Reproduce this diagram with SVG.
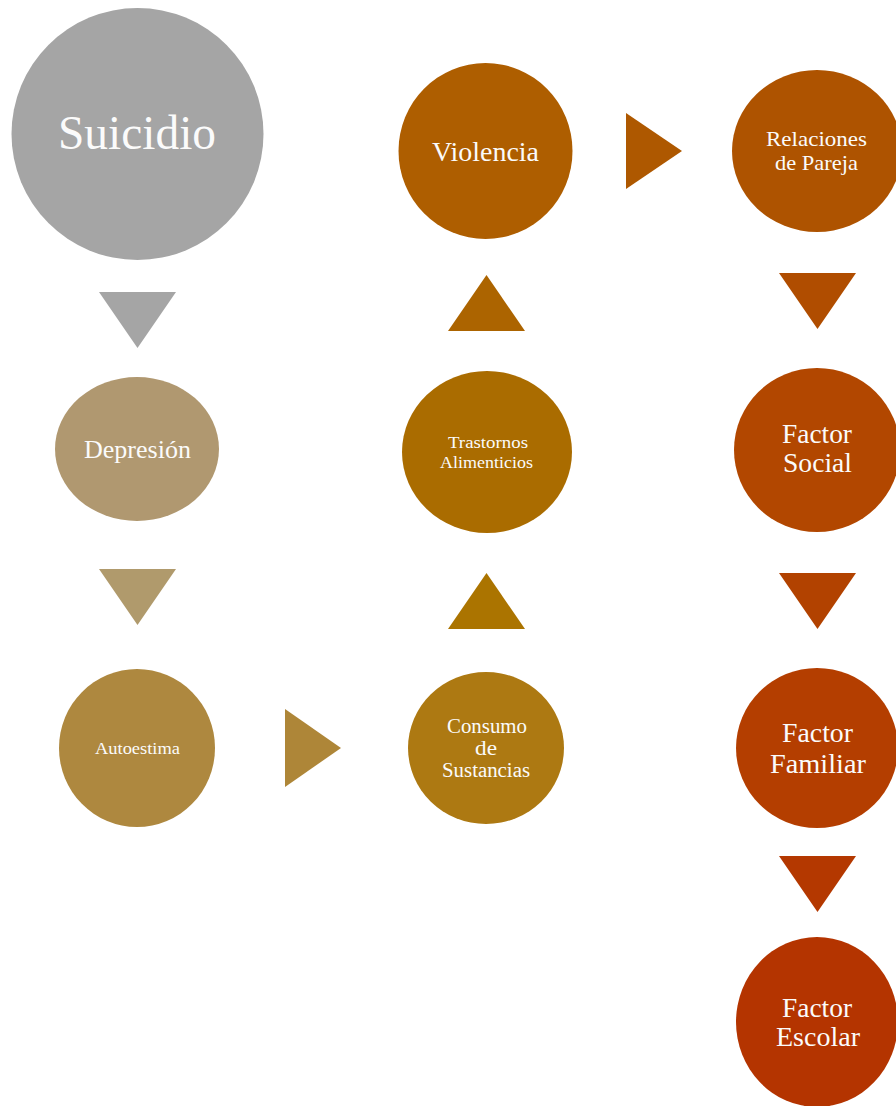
<svg xmlns="http://www.w3.org/2000/svg" width="896" height="1106" viewBox="0 0 896 1106">
<style>
text{font-family:"Liberation Serif","Times New Roman",serif;fill:#fbfbfb;text-anchor:middle}
</style>
<rect width="896" height="1106" fill="#ffffff"/>
<g id="connectors">
<polygon points="99,292 176,292 137.5,348" fill="#a5a5a5"/>
<polygon points="99,569 176,569 137.5,625" fill="#b09a6c"/>
<polygon points="285,709 341,748 285,787" fill="#ae8638"/>
<polygon points="448,629 525,629 486.5,573" fill="#ab7400"/>
<polygon points="448,331 525,331 486.5,275" fill="#ac6400"/>
<polygon points="626,113 682,151 626,189" fill="#ae5800"/>
<polygon points="779,273 856,273 817.5,329" fill="#b04d00"/>
<polygon points="779,573 856,573 817.5,629" fill="#b24200"/>
<polygon points="779,856 856,856 817.5,912" fill="#b43800"/>
</g>
<g id="suicidio">
<ellipse cx="137.5" cy="134" rx="126" ry="126" fill="#a5a5a5"/>
<text x="137" y="149" font-size="48" textLength="158" lengthAdjust="spacingAndGlyphs">Suicidio</text>
</g>
<g id="depresion">
<ellipse cx="137" cy="449" rx="82" ry="72" fill="#b09870"/>
<text x="137.5" y="458" font-size="26" textLength="107" lengthAdjust="spacingAndGlyphs">Depresión</text>
</g>
<g id="autoestima">
<ellipse cx="137" cy="748" rx="78" ry="79" fill="#ae883f"/>
<text x="137.5" y="754" font-size="17" textLength="85" lengthAdjust="spacingAndGlyphs">Autoestima</text>
</g>
<g id="consumo">
<ellipse cx="486" cy="748" rx="78" ry="76" fill="#ad7912"/>
<text x="487" y="733" font-size="20" textLength="80" lengthAdjust="spacingAndGlyphs">Consumo</text>
<text x="486" y="755" font-size="20" textLength="22" lengthAdjust="spacingAndGlyphs">de</text>
<text x="486" y="777" font-size="20" textLength="88" lengthAdjust="spacingAndGlyphs">Sustancias</text>
</g>
<g id="trastornos">
<ellipse cx="487" cy="452" rx="85" ry="81" fill="#aa6c00"/>
<text x="488" y="448" font-size="17" textLength="80" lengthAdjust="spacingAndGlyphs">Trastornos</text>
<text x="486.5" y="468" font-size="17" textLength="93" lengthAdjust="spacingAndGlyphs">Alimenticios</text>
</g>
<g id="violencia">
<ellipse cx="485.5" cy="151" rx="87" ry="88" fill="#ae5e00"/>
<text x="485.5" y="161" font-size="28" textLength="107" lengthAdjust="spacingAndGlyphs">Violencia</text>
</g>
<g id="relaciones">
<ellipse cx="817" cy="151" rx="85" ry="81" fill="#ae5300"/>
<text x="816.5" y="146" font-size="21" textLength="101" lengthAdjust="spacingAndGlyphs">Relaciones</text>
<text x="816.5" y="170" font-size="21" textLength="83" lengthAdjust="spacingAndGlyphs">de Pareja</text>
</g>
<g id="social">
<ellipse cx="817" cy="450" rx="83" ry="82" fill="#b24700"/>
<text x="817" y="443" font-size="27" textLength="70" lengthAdjust="spacingAndGlyphs">Factor</text>
<text x="817.5" y="472" font-size="27" textLength="69" lengthAdjust="spacingAndGlyphs">Social</text>
</g>
<g id="familiar">
<ellipse cx="817" cy="748" rx="81" ry="80" fill="#b43e00"/>
<text x="817.5" y="742" font-size="28" textLength="71" lengthAdjust="spacingAndGlyphs">Factor</text>
<text x="818" y="773" font-size="28" textLength="96" lengthAdjust="spacingAndGlyphs">Familiar</text>
</g>
<g id="escolar">
<ellipse cx="817" cy="1022" rx="81" ry="85" fill="#b43400"/>
<text x="817" y="1017" font-size="28" textLength="70" lengthAdjust="spacingAndGlyphs">Factor</text>
<text x="818" y="1046" font-size="28" textLength="84" lengthAdjust="spacingAndGlyphs">Escolar</text>
</g>
</svg>
